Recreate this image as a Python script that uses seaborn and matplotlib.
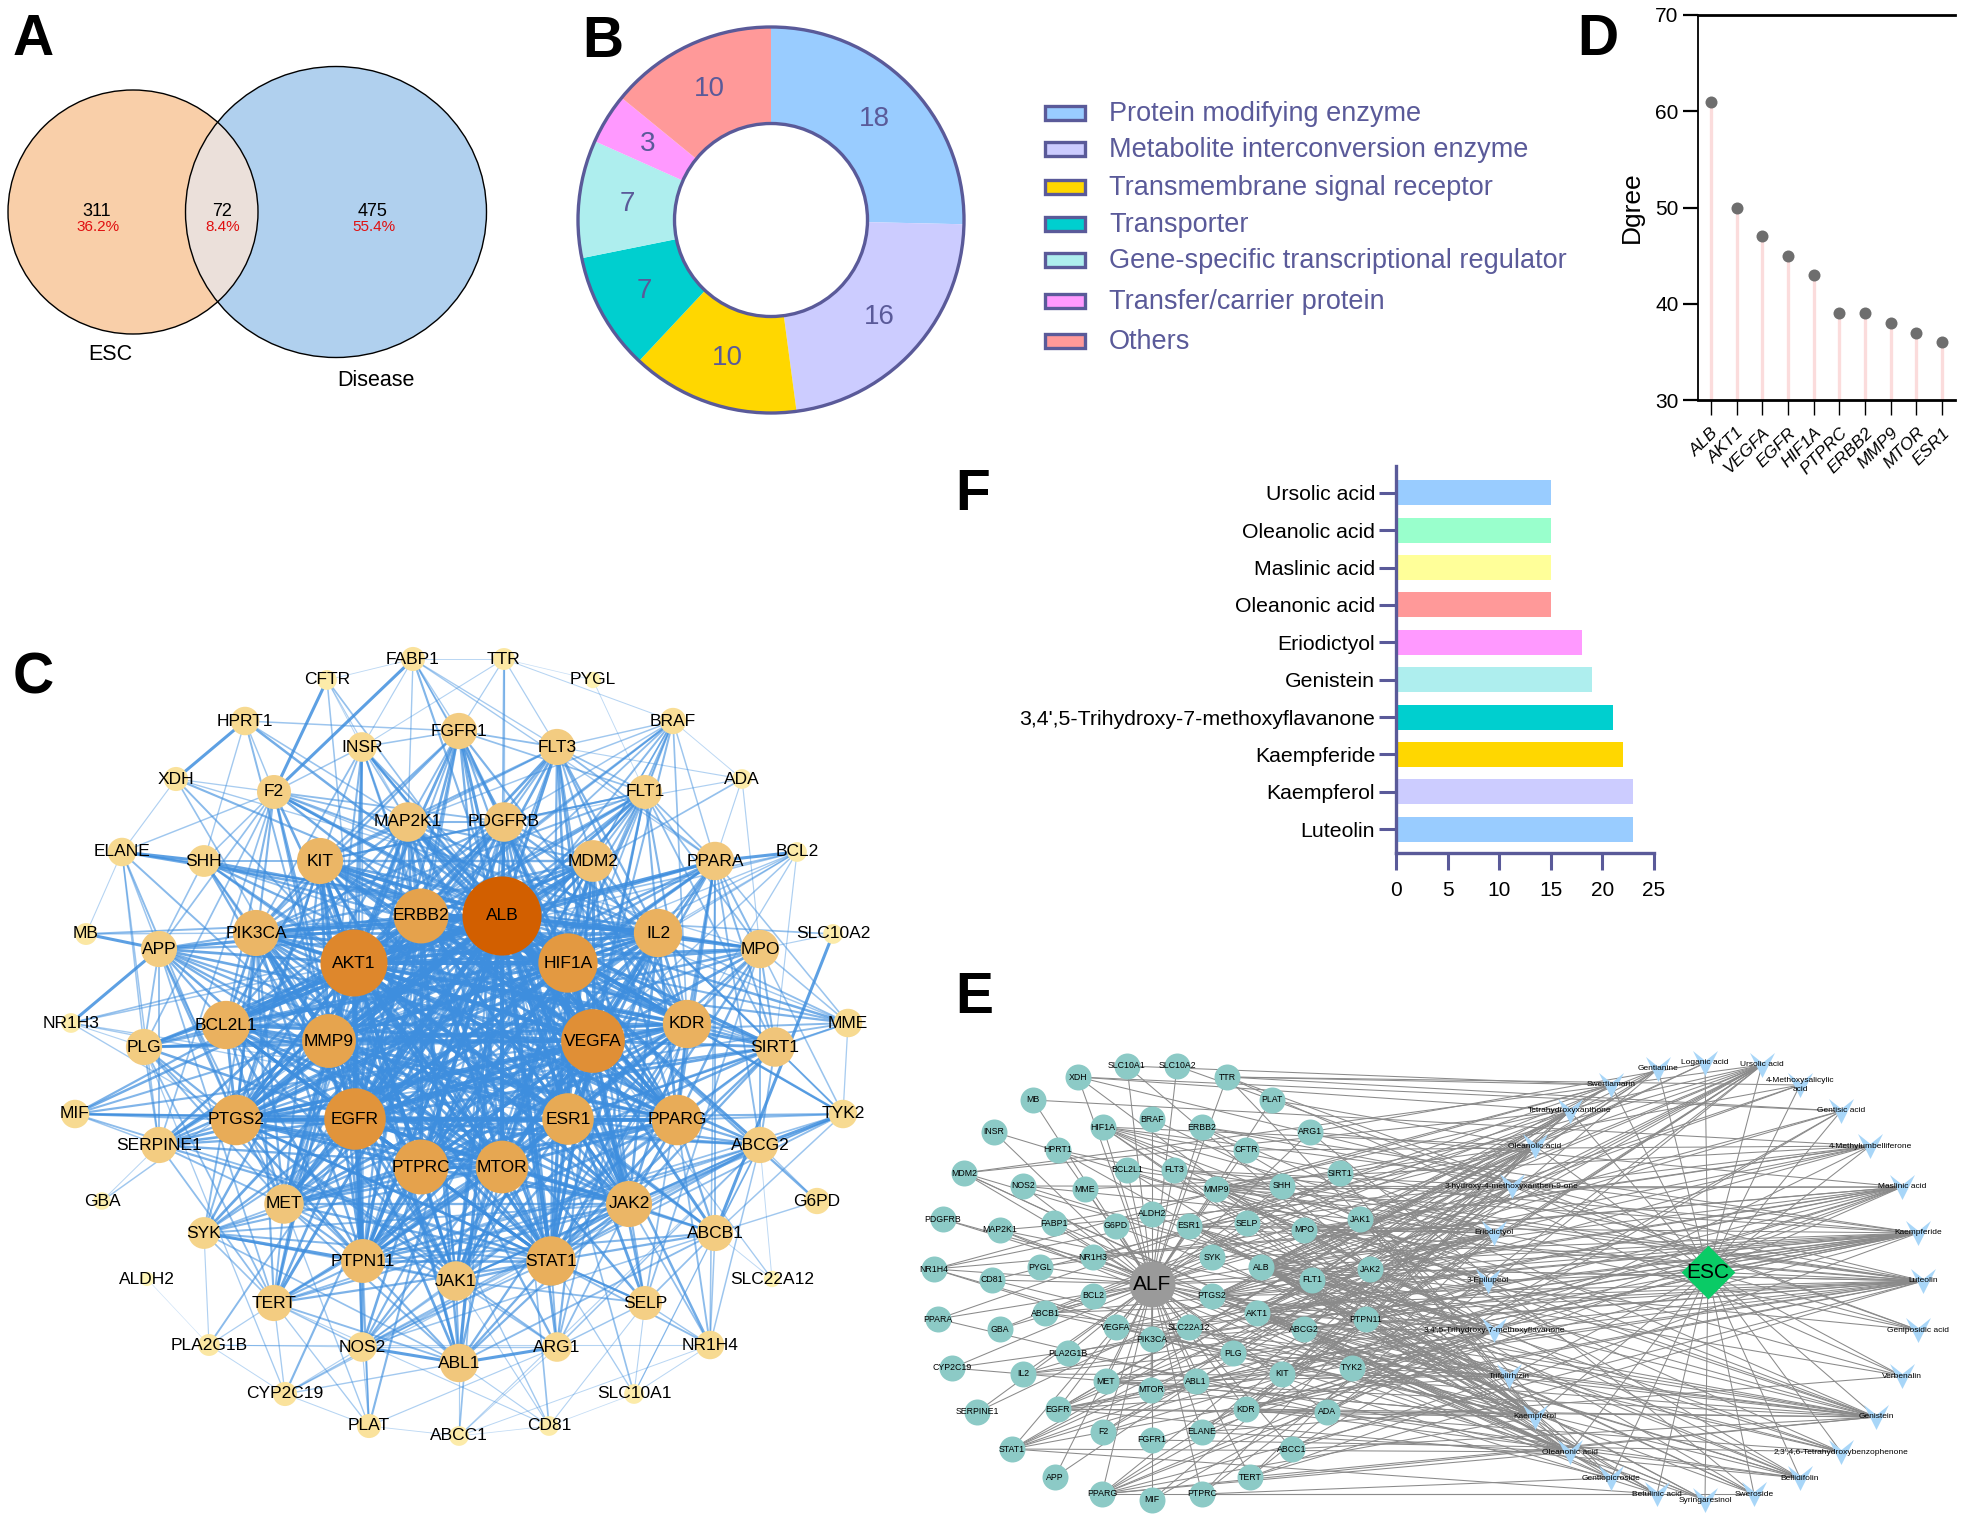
import itertools

import matplotlib.pyplot as plt
import pandas as pd
import seaborn as sns
from matplotlib.collections import LineCollection
from matplotlib.colors import LinearSegmentedColormap, to_rgba
from matplotlib.patches import Circle, Ellipse, Rectangle
from matplotlib.path import Path

sns.set_theme(style='white')
plt.rcParams['font.family'] = ['Liberation Sans', 'DejaVu Sans']

W, H = 1965, 1521
INK = '#5A5A99'

# ---- A: venn ----
venn_names = ['ESC', 'Disease']
venn_counts = [311, 72, 475]
venn_shares = ['36.2%', '8.4%', '55.4%']

# ---- B: donut ----
class_names = ['Protein modifying enzyme', 'Metabolite interconversion enzyme',
               'Transmembrane signal receptor', 'Transporter',
               'Gene-specific transcriptional regulator', 'Transfer/carrier protein', 'Others']
class_counts = [18, 16, 10, 7, 7, 3, 10]
class_colors = ['#99CCFF', '#CCCCFF', '#FFD700', '#00CFCF', '#AEEEEE', '#FF99FF', '#FF9999']

# ---- D: lollipop ----
hub_genes = ['ALB', 'AKT1', 'VEGFA', 'EGFR', 'HIF1A', 'PTPRC', 'ERBB2', 'MMP9', 'MTOR', 'ESR1']
hub_degree = [61, 50, 47, 45, 43, 39, 39, 38, 37, 36]

# ---- F: bars ----
compound_names = ['Ursolic acid', 'Oleanolic acid', 'Maslinic acid', 'Oleanonic acid', 'Eriodictyol',
                  'Genistein', "3,4',5-Trihydroxy-7-methoxyflavanone", 'Kaempferide', 'Kaempferol', 'Luteolin']
compound_counts = [15, 15, 15, 15, 18, 19, 21, 22, 23, 23]
compound_colors = ['#99CCFF', '#99FFCC', '#FFFF99', '#FF9999', '#FF99FF',
                   '#AEEEEE', '#00CFCF', '#FFD700', '#CCCCFF', '#99CCFF']

# ---- C: PPI network, layout ----
c_genes = ['FABP1', 'CFTR', 'HPRT1', 'INSR', 'FGFR1', 'XDH', 'F2', 'MAP2K1', 'ELANE', 'SHH', 'KIT', 'ERBB2',
           'MB', 'APP', 'PIK3CA', 'AKT1', 'NR1H3', 'PLG', 'BCL2L1', 'MMP9',
           'TTR', 'PYGL', 'BRAF', 'FLT3', 'ADA', 'FLT1', 'PDGFRB', 'MDM2', 'PPARA', 'BCL2', 'ALB', 'HIF1A',
           'IL2', 'MPO', 'SLC10A2', 'VEGFA', 'KDR', 'SIRT1', 'MME',
           'MIF', 'SERPINE1', 'PTGS2', 'EGFR', 'ESR1', 'PPARG', 'TYK2', 'ABCG2', 'PTPRC', 'MTOR', 'GBA', 'G6PD',
           'MET', 'JAK2', 'SYK', 'ABCB1', 'PTPN11', 'STAT1', 'JAK1', 'ALDH2', 'SLC22A12', 'TERT', 'SELP',
           'PLA2G1B', 'NOS2', 'ARG1', 'NR1H4', 'ABL1', 'CYP2C19', 'SLC10A1', 'PLAT', 'CD81', 'ABCC1']
c_x = [413, 327, 245, 362, 459, 176, 274, 408, 122, 204, 320, 421,
       86, 159, 256, 354, 71, 144, 226, 329,
       504, 593, 673, 557, 742, 645, 504, 593, 715, 797, 502, 568,
       658, 760, 833, 593, 687, 775, 848,
       75, 159, 236, 355, 568, 677, 843, 760, 421, 502, 102, 817,
       284, 629, 204, 715, 363, 551, 456, 147, 772, 274, 645,
       209, 362, 557, 710, 459, 285, 634, 369, 549, 459]
c_y = [659, 680, 721, 747, 731, 779, 792, 822, 852, 861, 861, 916,
       934, 949, 933, 963, 1023, 1047, 1025, 1041,
       659, 680, 721, 747, 779, 792, 822, 861, 861, 852, 916, 963,
       933, 949, 934, 1041, 1024, 1047, 1023,
       1114, 1145, 1120, 1119, 1119, 1120, 1114, 1145, 1167, 1167, 1201, 1201,
       1204, 1204, 1233, 1233, 1261, 1261, 1281, 1279, 1279, 1303, 1303,
       1345, 1347, 1347, 1345, 1363, 1394, 1394, 1426, 1426, 1436]
c_degree = [11, 7, 15, 16, 22, 11, 20, 25, 15, 18, 31, 39,
            9, 22, 31, 50, 7, 22, 33, 38,
            9, 4, 13, 22, 7, 20, 25, 27, 24, 7, 61, 43,
            33, 24, 7, 47, 33, 25, 15,
            15, 22, 35, 45, 36, 35, 15, 22, 39, 37, 5, 13,
            25, 31, 18, 22, 29, 34, 25, 2, 4, 22, 20,
            9, 16, 16, 15, 24, 11, 7, 11, 7, 7]

c_core = ['ALB', 'AKT1', 'VEGFA', 'EGFR', 'HIF1A', 'PTPRC', 'ERBB2', 'MMP9', 'MTOR', 'ESR1', 'PTGS2', 'PPARG',
          'KDR', 'IL2', 'PIK3CA', 'BCL2L1', 'JAK2', 'STAT1', 'JAK1', 'PTPN11', 'MET', 'KIT',
          'MDM2', 'PDGFRB', 'MAP2K1']
c_links = {
    'FABP1': 'ALB F2 FLT3 INSR FGFR1 PPARA PPARG MAP2K1 PDGFRB',
    'CFTR': 'F2 ALB INSR MAP2K1 AKT1 FABP1',
    'HPRT1': 'XDH F2 ALB FGFR1 MAP2K1 SHH MMP9',
    'INSR': 'AKT1 ALB EGFR MTOR PIK3CA HIF1A PTPN11 MAP2K1 FGFR1 PPARG F2 MMP9 KIT ERBB2',
    'FGFR1': 'ALB AKT1 EGFR ERBB2 PIK3CA PDGFRB MAP2K1 FLT3 FLT1 STAT1 KDR PTPN11 HIF1A MET KIT JAK2 MTOR',
    'XDH': 'ALB F2 ELANE MMP9 MPO AKT1',
    'F2': 'ALB AKT1 MMP9 PLG EGFR ELANE SERPINE1 PTGS2 VEGFA MAP2K1 APP BCL2L1 PDGFRB KDR SHH IL2 MME',
    'ELANE': 'SHH ALB MPO MB PLG SERPINE1 MMP9 IL2 APP PTGS2',
    'SHH': 'KIT AKT1 ALB EGFR VEGFA APP PIK3CA MMP9 ESR1 HIF1A SIRT1',
    'MB': 'APP PIK3CA ALB',
    'APP': 'PIK3CA AKT1 ALB EGFR MMP9 PTGS2 ESR1 VEGFA BCL2L1 PLG NR1H3 SERPINE1 TERT MET IL2 MTOR PPARG',
    'NR1H3': 'ALB AKT1 PPARG PLG ESR1 PTGS2',
    'PLG': 'ALB BCL2L1 EGFR MMP9 AKT1 SERPINE1 VEGFA PTGS2 KDR TERT MET PTPN11 CYP2C19 IL2',
    'MIF': 'SERPINE1 PTGS2 EGFR AKT1 ALB VEGFA ESR1 STAT1 HIF1A PPARG',
    'SERPINE1': 'PTGS2 ALB EGFR AKT1 VEGFA MMP9 TERT GBA STAT1 MTOR MET ESR1 HIF1A',
    'GBA': 'ALB',
    'SYK': 'PTPN11 AKT1 ALB EGFR PTPRC JAK2 STAT1 JAK1 MTOR TERT PIK3CA PLA2G1B IL2 KIT ABL1',
    'TTR': 'ALB PDGFRB FLT3 BRAF FABP1 FGFR1 INSR',
    'PYGL': 'FLT1 TTR',
    'BRAF': 'FLT3 PDGFRB AKT1 EGFR ERBB2 MAP2K1 FLT1 KDR PPARA HIF1A MTOR MMP9 MDM2 PTPN11 VEGFA',
    'FLT3': 'ALB AKT1 EGFR PDGFRB FLT1 KDR KIT MDM2 PPARA STAT1 HIF1A MAP2K1 PTPN11 JAK2 ERBB2 VEGFA IL2',
    'ADA': 'FLT3 PDGFRB BRAF PPARA ALB MPO',
    'FLT1': 'ALB AKT1 EGFR VEGFA KDR PDGFRB PPARA HIF1A MDM2 MMP9 PIK3CA ERBB2 IL2 KIT MET PTPN11 STAT1 SIRT1 MPO',
    'PPARA': 'ALB AKT1 EGFR VEGFA ESR1 HIF1A IL2 BCL2 MPO SIRT1 PPARG PTGS2 MME KDR MMP9 ABCG2 NR1H4 SELP ABCB1',
    'BCL2': 'AKT1 ALB EGFR VEGFA HIF1A IL2 SIRT1 MMP9 STAT1',
    'MPO': 'IL2 ALB AKT1 SIRT1 MME VEGFA PTGS2 PPARG MMP9 KDR SELP ABCG2 HIF1A TYK2 ESR1 STAT1',
    'SLC10A2': 'ABCB1 ALB MPO',
    'SIRT1': 'ALB AKT1 HIF1A VEGFA EGFR ESR1 MTOR PPARG PTGS2 KDR MME TYK2 ABCG2 STAT1 JAK2 IL2 NOS2',
    'MME': 'ALB AKT1 MMP9 PTGS2 IL2 HIF1A TYK2 ESR1',
    'TYK2': 'ABCG2 JAK2 JAK1 STAT1 IL2 PTPN11 ALB EGFR PPARG KDR ABCB1',
    'ABCG2': 'ALB AKT1 EGFR ESR1 JAK2 STAT1 JAK1 NOS2 ABCB1 TERT PTPN11 PPARG G6PD PTGS2 NR1H4 SLC22A12 CYP2C19',
    'G6PD': 'ALB ABCB1',
    'ABCB1': 'ALB AKT1 EGFR ESR1 JAK2 STAT1 NOS2 SELP ABL1 SLC22A12 PTPN11 PPARG',
    'SLC22A12': 'ALB',
    'MET': 'TERT SYK ABL1 PLAT',
    'TERT': 'PTPN11 AKT1 ALB EGFR JAK2 STAT1 NOS2 ESR1 MTOR PIK3CA PLAT CYP2C19 PLA2G1B MMP9 ABL1',
    'PLA2G1B': 'ALDH2 CYP2C19 NOS2 ALB',
    'NOS2': 'ALB AKT1 EGFR VEGFA ESR1 JAK2 STAT1 JAK1 ABL1 ARG1 PTPN11 CYP2C19 PLAT HIF1A',
    'ABL1': 'ARG1 AKT1 EGFR JAK2 ERBB2 STAT1 KIT KDR PTPN11 JAK1 MTOR ALB CD81 ABCC1',
    'ARG1': 'ALB AKT1 STAT1 ABCC1 JAK1 JAK2 ABCG2 IL2 SELP PTGS2 VEGFA',
    'SELP': 'ALB AKT1 STAT1 JAK1 JAK2 CD81 NR1H4 SLC10A1 VEGFA PTGS2',
    'NR1H4': 'ABCB1 ABCG2 SLC10A1 JAK2 STAT1 ALB PPARG ABCC1 PLA2G1B',
    'SLC10A1': 'STAT1 ABCG2 ABCB1 CD81 ALB',
    'CD81': 'JAK1 ALB ABCC1 TERT PTPRC',
    'ABCC1': 'ALB ABCG2 PLAT',
    'PLAT': 'PTPN11 ALB EGFR ARG1',
    'CYP2C19': 'JAK2 ALB PLAT ABL1',
}
c_strong = [('HPRT1', 'XDH'), ('ELANE', 'SHH'), ('MB', 'APP'), ('NR1H3', 'APP'), ('SYK', 'PTPN11'), ('SLC10A2', 'ABCB1'),
            ('TYK2', 'ABCG2'), ('BCL2', 'PPARA'), ('ABL1', 'ARG1'), ('NOS2', 'ABL1'), ('FABP1', 'F2'), ('CFTR', 'F2')]

# ---- E: gene-compound network, layout ----
e_genes = ['SLC10A1', 'SLC10A2', 'XDH', 'TTR', 'MB', 'PLAT', 'BRAF', 'HIF1A', 'ERBB2', 'INSR', 'ARG1', 'HPRT1', 'CFTR',
           'BCL2L1', 'FLT3', 'MDM2', 'SIRT1', 'NOS2', 'SHH', 'MME', 'MMP9', 'ALDH2', 'PDGFRB', 'JAK1', 'FABP1', 'SELP',
           'G6PD', 'ESR1', 'MAP2K1', 'MPO', 'NR1H3', 'SYK', 'NR1H4', 'JAK2', 'PYGL', 'ALB', 'CD81', 'FLT1', 'BCL2', 'PTGS2',
           'ABCB1', 'AKT1', 'PPARA', 'PTPN11', 'GBA', 'ABCG2', 'VEGFA', 'SLC22A12', 'PIK3CA', 'PLA2G1B', 'PLG', 'CYP2C19',
           'TYK2', 'IL2', 'KIT', 'MET', 'ABL1', 'MTOR', 'SERPINE1', 'ADA', 'EGFR', 'KDR', 'F2', 'ELANE', 'FGFR1', 'STAT1',
           'ABCC1', 'APP', 'TERT', 'PPARG', 'PTPRC', 'MIF']
e_x = [1127, 1177, 1078, 1227, 1033, 1272, 1152, 1103, 1202, 994, 1310, 1058, 1246,
       1127, 1174, 964, 1340, 1023, 1282, 1085, 1216, 1152, 943, 1360, 1054, 1247,
       1116, 1189, 1000, 1304, 1093, 1212, 934, 1370, 1040, 1261, 992, 1312, 1093, 1212,
       1045, 1257, 938, 1366, 1000, 1304, 1116, 1189, 1152, 1068, 1233, 952,
       1352, 1023, 1282, 1106, 1196, 1151, 977, 1327, 1058, 1246, 1103, 1202, 1152, 1012,
       1292, 1055, 1250, 1102, 1202, 1152]
e_y = [1066, 1066, 1077, 1077, 1100, 1100, 1119, 1127, 1127, 1132, 1132, 1150, 1150,
       1170, 1170, 1173, 1173, 1186, 1186, 1189, 1189, 1214, 1219, 1219, 1223, 1223,
       1226, 1226, 1230, 1230, 1257, 1257, 1269, 1269, 1267, 1267, 1280, 1280, 1296, 1296,
       1313, 1313, 1319, 1319, 1329, 1329, 1327, 1327, 1339, 1353, 1353, 1368,
       1368, 1374, 1374, 1381, 1381, 1390, 1412, 1412, 1409, 1409, 1432, 1432, 1440, 1449,
       1449, 1477, 1477, 1494, 1494, 1500]

e_compounds = ['Gentianine', 'Loganic acid', 'Ursolic acid', 'Swertiamarin', '4-Methoxysalicylic\nacid',
               'Tetrahydroxyxanthone', 'Gentisic acid', 'Oleanolic acid', '4-Methylumbelliferone',
               '3-hydroxy-4-methoxyxanthen-9-one', 'Maslinic acid', 'Eriodictyol', 'Kaempferide', '3-Epilupeol',
               'Luteolin', "3,4',5-Trihydroxy-7-methoxyflavanone", 'Geniposidic acid', 'Trifolirhizin', 'Verbenalin',
               'Kaempferol', 'Genistein', 'Oleanonic acid', "2,3',4,6-Tetrahydroxybenzophenone", 'Gentiopicroside',
               'Bellidifolin', 'Betulinic acid', 'Sweroside', 'Syringaresinol']
e_comp_x = [1658, 1705, 1762, 1611, 1800, 1570, 1841, 1535, 1870, 1512, 1902, 1494, 1918, 1488,
            1923, 1494, 1918, 1509, 1902, 1535, 1876, 1570, 1841, 1611, 1800, 1657, 1754, 1705]
e_comp_y = [1069, 1063, 1065, 1085, 1085, 1111, 1111, 1146, 1146, 1186, 1187, 1233, 1233, 1281,
            1281, 1330, 1330, 1376, 1376, 1417, 1417, 1452, 1452, 1478, 1478, 1494, 1494, 1500]
e_targets = [
    'AKT1 ALB MIF APP PLG GBA',
    'ALB PTGS2 ARG1',
    'PTPN11 PPARG PTGS2 NR1H3 AKT1 ALB STAT1 MTOR TERT PTPRC MMP9 ELANE F2 BCL2 MDM2',
    'ALB EGFR AKT1 TTR PPARA SLC10A1 NR1H4 MMP9',
    'ALB TTR FABP1 PTGS2',
    'ALB AKT1 EGFR ESR1 KDR KIT MET ABCB1 ABCG2 XDH MDM2',
    'ALB MIF PTGS2 TTR XDH ADA',
    'PTPN11 PPARG PTGS2 NR1H4 AKT1 ALB STAT1 MMP9 F2 ELANE CD81 PLAT HIF1A SERPINE1 PTPRC',
    'ALB AKT1 MPO PTGS2 CFTR MB ESR1 MME ADA PYGL',
    'ABCB1 ABCG2 MAP2K1 KIT KDR ERBB2 EGFR FLT3',
    'PTPN11 PPARG PTGS2 NR1H3 NR1H4 ALB AKT1 STAT1 JAK2 MMP9 PLA2G1B ELANE F2 ARG1 NOS2',
    'AKT1 ALB EGFR ESR1 VEGFA KDR MMP9 PTGS2 PIK3CA IL2 NOS2 MPO HIF1A SIRT1 TERT JAK2 STAT1 SELP',
    'AKT1 ALB VEGFA EGFR ESR1 PTGS2 HIF1A ERBB2 KDR MET ABCG2 ABCB1 PIK3CA JAK2 SYK MTOR FLT1 FLT3 IL2 MMP9 TERT CYP2C19',
    'ALB AKT1 STAT1 PTPN11 MMP9 BRAF PPARG INSR',
    'ALB AKT1 VEGFA EGFR HIF1A ESR1 PTGS2 MMP9 MTOR KDR PIK3CA JAK2 IL2 STAT1 BCL2L1 FLT3 MET ABCG2 ABCB1 MPO XDH TERT PPARG',
    'EGFR ESR1 PPARG AKT1 ALB KDR JAK1 JAK2 TYK2 ABL1 FGFR1 FLT1 MAP2K1 MMP9 PTGS2 PTPN11 HIF1A NOS2 ABCC1 ABCG2 MDM2',
    'ALB TTR SLC10A2 HPRT1',
    'ALB AKT1 EGFR TYK2 MET ABCC1 PDGFRB PLG IL2 G6PD',
    'ALB TTR MMP9 ELANE',
    'AKT1 ALB VEGFA EGFR HIF1A ESR1 PTGS2 MMP9 PPARG SIRT1 MPO KDR MET ABCG2 ABCB1 XDH TYK2 SYK PIK3CA FLT3 JAK1 CYP2C19 HPRT1',
    'EGFR ESR1 AKT1 ALB VEGFA PPARG PTGS2 MMP9 ABCG2 ABCB1 ABCC1 KDR KIT MET ERBB2 TERT PIK3CA BCL2L1 HIF1A',
    'PTPN11 PPARG PTGS2 STAT1 NR1H3 NR1H4 SHH AKT1 ALB JAK1 PLA2G1B MDM2 TYK2 ELANE HIF1A',
    'ESR1 HIF1A ALB FGFR1 KDR PTGS2 ABCG2',
    'ALB PTPRC PPARA SLC10A1 TTR FABP1 MAP2K1',
    'AKT1 ALB EGFR ESR1 KDR MET CD81 ERBB2 ABCG2 MMP9',
    'PTPRC PPARG BCL2L1 ALB STAT1 AKT1 MDM2 NR1H4',
    'ALB PTPRC AKT1 MMP9 ARG1 ALDH2',
    'AKT1 ALB PTGS2 SLC22A12 ESR1',
]

fig = plt.figure(figsize=(W / 100, H / 100), dpi=100)


def panel_axes(x0, y0, x1, y1):
    # pixel box of the full picture -> axes
    ax = fig.add_axes([x0 / W, 1 - y1 / H, (x1 - x0) / W, (y1 - y0) / H])
    ax.patch.set_alpha(0)
    return ax


def px_size(d):
    # marker diameter in px -> scatter area in pt^2
    return (d * 0.72) ** 2


canvas = fig.add_axes([0, 0, 1, 1])
canvas.set_xlim(0, W)
canvas.set_ylim(H, 0)
canvas.axis('off')

for letter, lx, ly in zip('ABCDEF', [13, 582, 13, 1577, 955, 955], [55, 57, 693, 55, 1013, 510]):
    canvas.text(lx, ly, letter, fontsize=41, fontweight='bold', color='black', va='baseline', ha='left', zorder=20)

# ==========================================
# A venn
# ==========================================
left_e = Ellipse((133, 212), 250, 244, fc='#F9CFA9', ec='none')
right_e = Ellipse((336, 212), 301, 291, fc='#B0D0EE', ec='none')
canvas.add_patch(left_e)
canvas.add_patch(right_e)
mid_e = Ellipse((133, 212), 250, 244, fc='#EBE0DA', ec='none')
canvas.add_patch(mid_e)
mid_e.set_clip_path(right_e)
canvas.add_patch(Ellipse((133, 212), 250, 244, fc='none', ec='black', lw=1))
canvas.add_patch(Ellipse((336, 212), 301, 291, fc='none', ec='black', lw=1))
for n, share, vx in zip(venn_counts, venn_shares, [97, 222, 373]):
    canvas.text(vx, 211, str(n), fontsize=13, ha='center', va='center', color='black')
    canvas.text(vx + 1, 227, share, fontsize=11, ha='center', va='center', color='#E01010')
canvas.text(110, 355, venn_names[0], fontsize=15.5, ha='center', va='center', color='black')
canvas.text(376, 380, venn_names[1], fontsize=15.5, ha='center', va='center', color='black')

# ==========================================
# B donut
# ==========================================
ax_b = panel_axes(578, 27, 964, 413)
total = sum(class_counts)
wedges, _, autotexts = ax_b.pie(class_counts, colors=class_colors, startangle=90, counterclock=False, radius=1,
                                wedgeprops=dict(width=0.5, linewidth=0),
                                autopct=lambda p: f'{p * total / 100:.0f}', pctdistance=0.75,
                                textprops=dict(color=INK, fontsize=20))
ax_b.set_xlim(-1, 1)
ax_b.set_ylim(-1, 1)
for rad in (1, 0.5):
    ax_b.add_patch(Circle((0, 0), rad, fill=False, ec=INK, lw=2.4, clip_on=False))

legend_y = [113, 149, 187, 224, 260, 301, 341]
for name, color, ly in zip(class_names, class_colors, legend_y):
    canvas.add_patch(Rectangle((1045, ly - 7), 40, 14, fc=color, ec=INK, lw=2.4))
    canvas.text(1109, ly + 1, name, fontsize=19.5, color=INK, ha='left', va='center')

# ==========================================
# D lollipop
# ==========================================
ax_d = panel_axes(1698, 15, 1955, 400)
d_df = pd.DataFrame({'gene': hub_genes, 'degree': hub_degree})
ax_d.vlines(range(len(hub_genes)), 30, d_df['degree'], color='#FBDCDC', lw=2.4, zorder=1)
sns.scatterplot(data=d_df, x='gene', y='degree', color='#6E6E6E', s=px_size(12), linewidth=0, ax=ax_d, zorder=3)
ax_d.set_xlim(-0.5, 9.5)
ax_d.set_ylim(30, 70)
ax_d.set_yticks([30, 40, 50, 60, 70])
ax_d.set_xlabel('')
ax_d.set_ylabel('Dgree', fontsize=19, labelpad=8, color='black')
ax_d.tick_params(axis='y', length=11, width=1.6, labelsize=15, pad=3, left=True, labelcolor='black', color='black')
ax_d.tick_params(axis='x', length=11, width=1, bottom=True, pad=7, color='black')
for lab in ax_d.get_xticklabels():
    lab.set(rotation=45, ha='right', rotation_mode='anchor', fontstyle='italic', fontsize=12.5, color='black')
for side in ('left', 'bottom', 'top'):
    ax_d.spines[side].set_visible(True)
    ax_d.spines[side].set_color('black')
ax_d.spines['left'].set_linewidth(1.3)
ax_d.spines['bottom'].set_linewidth(2)
ax_d.spines['top'].set_linewidth(2)
ax_d.spines['right'].set_visible(False)

# ==========================================
# F bars
# ==========================================
ax_f = panel_axes(1396, 466, 1654, 853)
f_df = pd.DataFrame({'compound': compound_names, 'n': compound_counts})
sns.barplot(data=f_df, y='compound', x='n', hue='compound', palette=compound_colors, legend=False,
            width=0.67, orient='h', ax=ax_f, linewidth=0, saturation=1)
ax_f.set_xlim(0, 25)
ax_f.set_ylim(9.64, -0.72)
ax_f.set_xticks([0, 5, 10, 15, 20, 25])
ax_f.set_xlabel('')
ax_f.set_ylabel('')
ax_f.tick_params(axis='y', length=12, width=2.2, color=INK, labelsize=15.3, pad=3, left=True, labelcolor='black')
ax_f.tick_params(axis='x', length=12, width=2.2, color=INK, labelsize=15, pad=8, bottom=True, labelcolor='black')
for side in ('left', 'bottom'):
    ax_f.spines[side].set_visible(True)
    ax_f.spines[side].set_color(INK)
    ax_f.spines[side].set_linewidth(2.4)
ax_f.spines['top'].set_visible(False)
ax_f.spines['right'].set_visible(False)

# ==========================================
# C PPI network
# ==========================================
c_df = pd.DataFrame({'gene': c_genes, 'x': c_x, 'y': c_y, 'degree': c_degree}).set_index('gene')
pairs = set(frozenset(p) for p in itertools.combinations(c_core, 2))
for src, partners in c_links.items():
    for dst in partners.split():
        if src != dst:
            pairs.add(frozenset((src, dst)))
strong = set(frozenset(p) for p in c_strong)
pairs |= strong

segs, widths, colors = [], [], []
for pair in sorted(pairs, key=sorted):
    a, b = sorted(pair)
    score = (c_df.loc[a, 'degree'] * c_df.loc[b, 'degree']) ** 0.5 / 61
    if pair in strong:
        score = max(score, 0.6)
    segs.append([(c_df.loc[a, 'x'], c_df.loc[a, 'y']), (c_df.loc[b, 'x'], c_df.loc[b, 'y'])])
    widths.append(0.35 + 3.6 * score ** 1.3)
    colors.append(to_rgba('#3E8EDE', min(0.18 + 1.1 * score, 0.95)))
canvas.add_collection(LineCollection(segs, linewidths=widths, colors=colors, zorder=2))

node_cmap = LinearSegmentedColormap.from_list(
    'node', ['#FFF6B8', '#F8DC94', '#F0C478', '#E6A650', '#DF8A30', '#D25F00'])
sns.scatterplot(data=c_df, x='x', y='y', hue='degree', palette=node_cmap, hue_norm=(2, 61), legend=False,
                s=[px_size(2 * (6 + 0.55 * d)) for d in c_df['degree']], linewidth=0, ax=canvas, zorder=3)
for gene, row in c_df.iterrows():
    canvas.text(row['x'], row['y'], gene, fontsize=12.5, color='black', ha='center', va='center', zorder=4)

# ==========================================
# E gene-compound network
# ==========================================
e_df = pd.DataFrame({'gene': e_genes, 'x': e_x, 'y': e_y}).set_index('gene')
comp_df = pd.DataFrame({'name': e_compounds, 'x': e_comp_x, 'y': e_comp_y})
alf_xy = (1152, 1284)
esc_xy = (1708, 1272)

e_segs = []
for gene, row in e_df.iterrows():
    e_segs.append([alf_xy, (row['x'], row['y'])])
for _, row in comp_df.iterrows():
    e_segs.append([esc_xy, (row['x'], row['y'])])
for (_, row), targets in zip(comp_df.iterrows(), e_targets):
    for gene in targets.split():
        e_segs.append([(row['x'], row['y']), (e_df.loc[gene, 'x'], e_df.loc[gene, 'y'])])
canvas.add_collection(LineCollection(e_segs, linewidths=0.75, colors='#8A8A8A', zorder=2))

v_marker = Path([(-1, 1), (0, 0.2), (1, 1), (0, -1), (-1, 1)], closed=True)
sns.scatterplot(data=e_df, x='x', y='y', color='#8CCAC6', s=px_size(26), linewidth=0, ax=canvas, zorder=3)
sns.scatterplot(data=comp_df, x='x', y='y', color='#A8D6F8', marker=v_marker, s=px_size(25), linewidth=0,
                ax=canvas, zorder=3)
sns.scatterplot(x=[alf_xy[0]], y=[alf_xy[1]], color='#9A9A9A', s=px_size(46), linewidth=0, ax=canvas, zorder=3)
sns.scatterplot(x=[esc_xy[0]], y=[esc_xy[1]], color='#0ACB66', marker='D', s=px_size(38), linewidth=0,
                ax=canvas, zorder=3)
for gene, row in e_df.iterrows():
    canvas.text(row['x'], row['y'], gene, fontsize=6.3, color='black', ha='center', va='center', zorder=4)
for _, row in comp_df.iterrows():
    canvas.text(row['x'], row['y'], row['name'], fontsize=6, color='black', ha='center', va='center',
                linespacing=1.5, zorder=4)
canvas.text(alf_xy[0], alf_xy[1], 'ALF', fontsize=15, color='black', ha='center', va='center', zorder=4)
canvas.text(esc_xy[0], esc_xy[1], 'ESC', fontsize=15, color='black', ha='center', va='center', zorder=4)

canvas.set_xlim(0, W)
canvas.set_ylim(H, 0)
canvas.set_xlabel('')
canvas.set_ylabel('')

fig.savefig('out.png', dpi=100)
